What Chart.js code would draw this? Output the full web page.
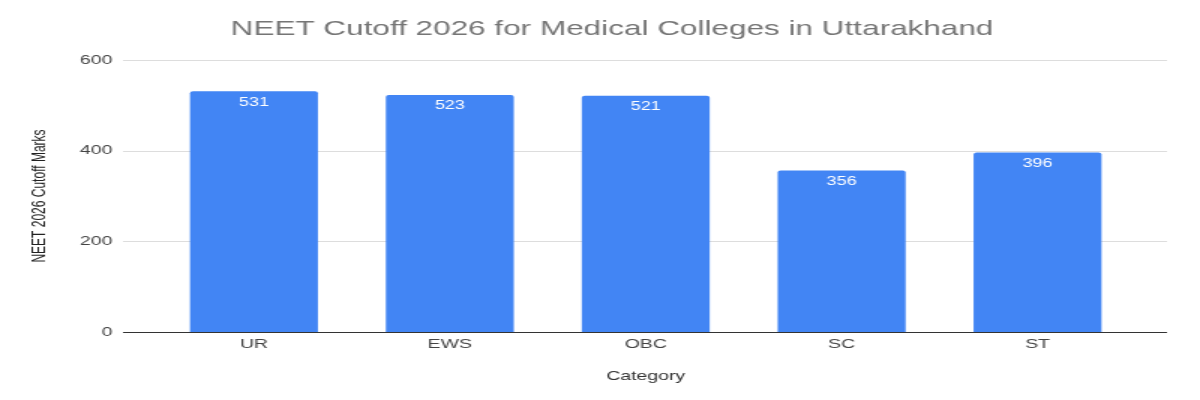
<!DOCTYPE html>
<html>
<head>
<meta charset="utf-8">
<script src="https://cdn.jsdelivr.net/npm/chart.js@4/dist/chart.umd.min.js"></script>
<style>
  html, body { margin: 0; padding: 0; background: #fff; overflow: hidden; }
  /* the reference is a horizontally stretched picture, so draw at 800 wide and stretch to 1200 */
  #wrap { width: 800px; height: 400px; transform: scaleX(1.5); transform-origin: 0 0; }
</style>
</head>
<body>
<div id="wrap"><canvas id="myChart"></canvas></div>
<script>
var chartTitle = 'NEET Cutoff 2026 for Medical Colleges in Uttarakhand'
var categories = ['UR', 'EWS', 'OBC', 'SC', 'ST']
var cutoffs = [531, 523, 521, 356, 396]
var yTicks = [0, 200, 400, 600]

var FONT = 'Arial, "Liberation Sans", sans-serif'

// title sits a little left of the plot centre in the reference
var topTitle = {
    id: 'topTitle',
    afterDraw: function(chart){
        var ctx = chart.ctx
        ctx.save()
        ctx.fillStyle = '#757575'
        ctx.font = '21px ' + FONT
        ctx.textAlign = 'center'
        ctx.textBaseline = 'middle'
        ctx.fillText(chartTitle, 408, 29.5)
        ctx.restore()
    }
}

// gridlines run a bit past the bars on both sides, like the sheet chart
var wideGrid = {
    id: 'wideGrid',
    beforeDatasetsDraw: function(chart){
        var ctx = chart.ctx
        var area = chart.chartArea
        var y = chart.scales.y
        ctx.save()
        yTicks.forEach(function(v){
            var py = Math.round(y.getPixelForValue(v)) + 0.5
            ctx.strokeStyle = v === 0 ? '#333333' : '#dddddd'
            ctx.lineWidth = 1
            ctx.beginPath()
            ctx.moveTo(area.left - 22, py)
            ctx.lineTo(area.right + 21, py)
            ctx.stroke()
        })
        ctx.restore()
    }
}

// white value labels just inside the top of each bar
var barLabels = {
    id: 'barLabels',
    afterDatasetsDraw: function(chart){
        var ctx = chart.ctx
        var meta = chart.getDatasetMeta(0)
        ctx.save()
        ctx.fillStyle = '#ffffff'
        ctx.font = '12px ' + FONT
        ctx.textAlign = 'center'
        ctx.textBaseline = 'top'
        meta.data.forEach(function(bar, i){
            ctx.fillText(String(cutoffs[i]), bar.x, bar.y + 5)
        })
        ctx.restore()
    }
}

var ctx = document.getElementById('myChart').getContext('2d')
var myChart = new Chart(ctx, {
    type: 'bar',
    data: {
        labels: categories,
        datasets: [{
            label: 'NEET 2026 Cutoff Marks',
            data: cutoffs,
            backgroundColor: '#4285f4',
            borderWidth: 0,
            borderRadius: 2,
            borderSkipped: 'bottom',
            barPercentage: 0.653,
            categoryPercentage: 1
        }]
    },
    options: {
        responsive: true,
        maintainAspectRatio: false,
        animation: false,
        devicePixelRatio: 1,
        layout: { padding: { left: 0, right: 43, top: 60, bottom: 8 } },
        plugins: {
            legend: { display: false },
            tooltip: { enabled: false },
            title: { display: false }
        },
        scales: {
            x: {
                grid: { display: false, drawTicks: false },
                border: { display: false },
                ticks: {
                    color: '#444444',
                    font: { family: FONT, size: 13 },
                    padding: 5
                },
                title: {
                    display: true,
                    text: 'Category',
                    color: '#333333',
                    font: { family: FONT, size: 13 },
                    padding: { top: 0, bottom: 8 }
                },
                afterFit: function(s){ s.height = 60 }
            },
            y: {
                min: 0,
                max: 600,
                afterBuildTicks: function(s){
                    s.ticks = yTicks.map(function(v){ return { value: v } })
                },
                grid: { display: false, drawTicks: false },
                border: { display: false },
                ticks: {
                    color: '#444444',
                    font: { family: FONT, size: 13 },
                    padding: 29
                },
                title: {
                    display: true,
                    text: 'NEET 2026 Cutoff Marks',
                    color: '#222222',
                    font: { family: FONT, size: 12 },
                    padding: { top: 19.5, bottom: 0 }
                },
                afterFit: function(s){ s.width = 104 }
            }
        }
    },
    plugins: [wideGrid, barLabels, topTitle]
})
</script>
</body>
</html>
